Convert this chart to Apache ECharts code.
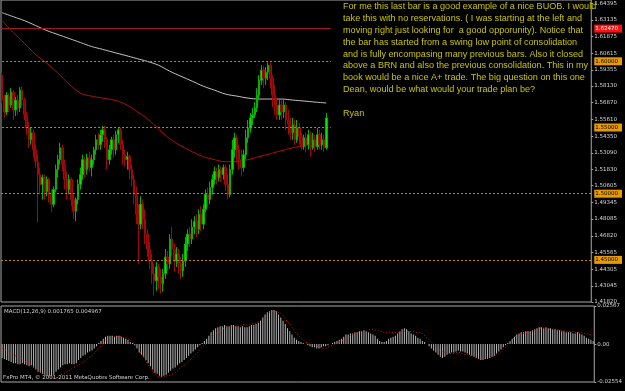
<!DOCTYPE html>
<html><head><meta charset="utf-8">
<script src="https://cdn.jsdelivr.net/npm/echarts@6/dist/echarts.min.js"></script>
<style>html,body{margin:0;padding:0;background:#000;}#c{width:625px;height:391px;}</style>
</head><body><div id="c"></div>
<script>
// ---- main price chart (visible bars) ----
const openP = [1.5895,1.5707,1.5617,1.5737,1.5670,1.5767,1.5632,1.5707,1.5647,1.5782,
1.5707,1.5595,1.5497,1.5407,1.5460,1.5332,1.5242,1.5145,1.5070,1.5122,
1.5017,1.5107,1.4995,1.4920,1.5032,1.5182,1.5257,1.5347,1.5220,1.5107,
1.5032,1.5107,1.4957,1.4867,1.4957,1.5070,1.5145,1.5257,1.5182,1.5272,
1.5197,1.5257,1.5332,1.5407,1.5370,1.5445,1.5482,1.5407,1.5257,1.5332,
1.5407,1.5332,1.5445,1.5482,1.5370,1.5295,1.5257,1.5280,1.5182,1.5107,
1.4995,1.4845,1.4770,1.4920,1.4807,1.4695,1.4582,1.4492,1.4395,1.4342,
1.4447,1.4372,1.4320,1.4395,1.4522,1.4470,1.4657,1.4582,1.4492,1.4545,
1.4470,1.4417,1.4492,1.4620,1.4695,1.4657,1.4747,1.4792,1.4732,1.4845,
1.4770,1.4882,1.4995,1.4957,1.5047,1.5107,1.5167,1.5122,1.5182,1.5145,
1.5197,1.5070,1.4995,1.5182,1.5332,1.5422,1.5332,1.5257,1.5197,1.5295,
1.5422,1.5497,1.5572,1.5595,1.5647,1.5745,1.5857,1.5932,1.5872,1.5917,
1.5970,1.5872,1.5745,1.5670,1.5595,1.5670,1.5617,1.5670,1.5557,1.5520,
1.5460,1.5520,1.5407,1.5497,1.5430,1.5355,1.5422,1.5370,1.5445,1.5347,
1.5407,1.5355,1.5445,1.5370,1.5407,1.5347];
const closeP = [1.5707,1.5617,1.5745,1.5670,1.5767,1.5632,1.5707,1.5647,1.5782,1.5707,
1.5595,1.5497,1.5407,1.5460,1.5332,1.5242,1.5145,1.5070,1.5122,1.5017,
1.5107,1.4995,1.4920,1.5032,1.5182,1.5257,1.5347,1.5220,1.5107,1.5032,
1.5107,1.4957,1.4867,1.4957,1.5070,1.5145,1.5257,1.5182,1.5272,1.5197,
1.5257,1.5332,1.5407,1.5370,1.5445,1.5482,1.5407,1.5257,1.5332,1.5407,
1.5332,1.5445,1.5482,1.5370,1.5295,1.5257,1.5280,1.5182,1.5107,1.4995,
1.4845,1.4770,1.4920,1.4807,1.4695,1.4582,1.4492,1.4395,1.4342,1.4447,
1.4372,1.4320,1.4395,1.4522,1.4470,1.4657,1.4582,1.4492,1.4545,1.4470,
1.4417,1.4492,1.4620,1.4695,1.4657,1.4747,1.4792,1.4732,1.4845,1.4770,
1.4882,1.4995,1.4957,1.5047,1.5107,1.5167,1.5122,1.5182,1.5145,1.5197,
1.5070,1.4995,1.5182,1.5332,1.5422,1.5332,1.5257,1.5197,1.5295,1.5422,
1.5497,1.5572,1.5595,1.5647,1.5745,1.5857,1.5932,1.5872,1.5917,1.5970,
1.5872,1.5745,1.5670,1.5595,1.5670,1.5617,1.5670,1.5557,1.5520,1.5460,
1.5520,1.5407,1.5497,1.5430,1.5355,1.5422,1.5370,1.5445,1.5347,1.5407,
1.5355,1.5445,1.5370,1.5407,1.5347,1.5572];
const lowP = [1.5685,1.5572,1.5595,1.5617,1.5647,1.5557,1.5587,1.5595,1.5617,1.5670,
1.5557,1.5445,1.5347,1.5370,1.5272,1.5197,1.4785,1.4995,1.4957,1.4957,
1.4980,1.4935,1.4860,1.4897,1.5010,1.5122,1.5220,1.5167,1.5032,1.4957,
1.4995,1.4905,1.4807,1.4792,1.4920,1.5032,1.5107,1.5122,1.5145,1.5167,
1.5130,1.5220,1.5295,1.5332,1.5332,1.5392,1.5347,1.5182,1.5220,1.5295,
1.5272,1.5295,1.5385,1.5332,1.5220,1.5205,1.5182,1.5107,1.5055,1.4920,
1.4770,1.4470,1.4732,1.4732,1.4620,1.4522,1.4432,1.4320,1.4230,1.4267,
1.4282,1.4245,1.4260,1.4357,1.4417,1.4432,1.4530,1.4410,1.4447,1.4395,
1.4357,1.4372,1.4447,1.4567,1.4597,1.4620,1.4695,1.4672,1.4695,1.4717,
1.4732,1.4860,1.4897,1.4920,1.4995,1.5070,1.5070,1.5092,1.5085,1.5107,
1.5017,1.4957,1.4972,1.5145,1.5272,1.5235,1.5182,1.5130,1.5167,1.5257,
1.5385,1.5460,1.5520,1.5572,1.5617,1.5707,1.5820,1.5797,1.5820,1.5857,
1.5797,1.5655,1.5595,1.5557,1.5557,1.5557,1.5572,1.5482,1.5445,1.5407,
1.5407,1.5370,1.5385,1.5370,1.5332,1.5332,1.5310,1.5332,1.5280,1.5332,
1.5317,1.5332,1.5332,1.5332,1.5317,1.5332];
const highP = [1.5917,1.5745,1.5767,1.5760,1.5797,1.5782,1.5730,1.5745,1.5805,1.5812,
1.5722,1.5617,1.5542,1.5497,1.5482,1.5370,1.5295,1.5197,1.5145,1.5145,
1.5130,1.5122,1.5032,1.5055,1.5220,1.5295,1.5385,1.5370,1.5257,1.5167,
1.5145,1.5122,1.4995,1.4972,1.5107,1.5197,1.5295,1.5280,1.5302,1.5317,
1.5295,1.5355,1.5445,1.5460,1.5482,1.5512,1.5512,1.5430,1.5370,1.5430,
1.5445,1.5475,1.5497,1.5497,1.5407,1.5332,1.5317,1.5295,1.5220,1.5145,
1.5055,1.4920,1.4980,1.4957,1.4882,1.4732,1.4635,1.4545,1.4470,1.4485,
1.4470,1.4432,1.4432,1.4582,1.4567,1.4695,1.4747,1.4620,1.4597,1.4582,
1.4522,1.4545,1.4672,1.4732,1.4747,1.4807,1.4830,1.4845,1.4882,1.4905,
1.4920,1.5032,1.5047,1.5092,1.5145,1.5205,1.5197,1.5220,1.5205,1.5220,
1.5220,1.5145,1.5220,1.5407,1.5460,1.5445,1.5370,1.5332,1.5332,1.5482,
1.5557,1.5610,1.5647,1.5692,1.5797,1.5895,1.5970,1.5962,1.5955,1.5992,
1.5992,1.5895,1.5820,1.5722,1.5707,1.5707,1.5707,1.5692,1.5632,1.5572,
1.5572,1.5557,1.5557,1.5535,1.5460,1.5445,1.5460,1.5482,1.5467,1.5460,
1.5445,1.5497,1.5482,1.5460,1.5445,1.5610];

// moving averages, read every 5th bar
const maIdx = [0,5,10,15,20,25,30,35,40,45,50,55,60,65,70,75,80,85,90,95,100,105,110,115,120,125,130,135,140,145];
const maGray = [1.6367,1.6337,1.6307,1.6270,1.6232,1.6202,1.6172,1.6142,1.6112,1.6090,1.6067,1.6045,1.6022,1.5999,1.5970,
1.5925,1.5887,1.5850,1.5812,1.5782,1.5752,1.5737,1.5722,1.5715,1.5715,1.5715,1.5707,1.5700,1.5692,1.5685];
const maRed = [1.6307,1.6217,1.6135,1.6052,1.5985,1.5910,1.5827,1.5760,1.5737,1.5722,1.5707,1.5677,1.5625,1.5565,1.5490,
1.5415,1.5362,1.5317,1.5280,1.5257,1.5242,1.5242,1.5257,1.5280,1.5302,1.5325,1.5347,1.5362,1.5370,1.5370];

// levels & ticks
const priceTicks = [1.64395,1.63135,1.61875,1.60615,1.59355,1.58130,1.56870,1.55610,1.54350,1.53090,1.51830,1.50605,1.49345,1.48085,1.46820,1.45565,1.44305,1.43045,1.41820];
const roundLevels = [1.6000,1.5500,1.5000,1.4500];
const redLevel = 1.6247;
const macdTicks = [0.02567,0,-0.02554];
const macdTickText = ['0.02567','0.00','-0.02554'];

// ---- MACD (all bars) ----
const macdMain = [-0.0093,-0.0100,-0.0107,-0.0114,-0.0121,-0.0129,-0.0129,-0.0136,-0.0136,-0.0129,
-0.0136,-0.0143,-0.0150,-0.0143,-0.0157,-0.0171,-0.0186,-0.0193,-0.0200,-0.0207,
-0.0214,-0.0214,-0.0214,-0.0207,-0.0186,-0.0171,-0.0157,-0.0143,-0.0136,-0.0136,
-0.0129,-0.0136,-0.0136,-0.0129,-0.0107,-0.0093,-0.0079,-0.0071,-0.0057,-0.0050,
-0.0043,-0.0029,-0.0014,0.0007,0.0021,0.0036,0.0050,0.0057,0.0057,0.0057,
0.0050,0.0057,0.0057,0.0050,0.0043,0.0036,0.0029,0.0014,0.0007,-0.0007,
-0.0029,-0.0057,-0.0071,-0.0086,-0.0107,-0.0129,-0.0150,-0.0171,-0.0193,-0.0200,
-0.0214,-0.0221,-0.0214,-0.0207,-0.0193,-0.0179,-0.0164,-0.0157,-0.0143,-0.0129,
-0.0121,-0.0107,-0.0093,-0.0079,-0.0064,-0.0050,-0.0036,-0.0021,-0.0007,0.0007,
0.0021,0.0036,0.0057,0.0079,0.0093,0.0107,0.0114,0.0121,0.0121,0.0129,
0.0121,0.0121,0.0129,0.0129,0.0121,0.0121,0.0114,0.0121,0.0114,0.0114,
0.0121,0.0129,0.0129,0.0136,0.0143,0.0157,0.0179,0.0200,0.0214,0.0221,
0.0229,0.0229,0.0221,0.0200,0.0179,0.0157,0.0136,0.0107,0.0086,0.0064,
0.0043,0.0029,0.0021,0.0014,0.0007,0.0000,-0.0007,-0.0014,-0.0021,-0.0021,
-0.0029,-0.0029,-0.0021,-0.0014,-0.0014,-0.0007,0.0000,0.0007,0.0014,0.0021,
0.0029,0.0036,0.0050,0.0064,0.0064,0.0071,0.0071,0.0079,0.0079,0.0086,
0.0086,0.0093,0.0086,0.0079,0.0071,0.0064,0.0057,0.0036,0.0021,0.0014,
0.0014,0.0021,0.0036,0.0043,0.0050,0.0057,0.0071,0.0086,0.0100,0.0107,
0.0100,0.0086,0.0071,0.0064,0.0057,0.0043,0.0036,0.0021,0.0014,0.0000,
-0.0014,-0.0029,-0.0043,-0.0057,-0.0071,-0.0086,-0.0093,-0.0086,-0.0071,-0.0064,
-0.0057,-0.0057,-0.0050,-0.0043,-0.0050,-0.0050,-0.0057,-0.0064,-0.0071,-0.0079,
-0.0086,-0.0093,-0.0100,-0.0107,-0.0107,-0.0100,-0.0100,-0.0093,-0.0086,-0.0079,
-0.0064,-0.0050,-0.0036,-0.0021,-0.0007,0.0007,0.0021,0.0036,0.0050,0.0064,
0.0071,0.0079,0.0079,0.0086,0.0086,0.0086,0.0093,0.0100,0.0107,0.0114,
0.0114,0.0107,0.0114,0.0107,0.0107,0.0100,0.0100,0.0093,0.0093,0.0086,
0.0086,0.0079,0.0079,0.0079,0.0071,0.0071,0.0079,0.0071,0.0064,0.0057,
0.0043,0.0036,0.0029,0.0021];
const macdSignal = [-0.0029,-0.0036,-0.0043,-0.0050,-0.0057,-0.0071,-0.0079,-0.0086,-0.0093,-0.0100,
-0.0114,-0.0121,-0.0129,-0.0143,-0.0150,-0.0164,-0.0171,-0.0186,-0.0193,-0.0207,
-0.0214,-0.0221,-0.0221,-0.0229,-0.0229,-0.0221,-0.0207,-0.0200,-0.0193,-0.0186,
-0.0179,-0.0164,-0.0157,-0.0150,-0.0143,-0.0129,-0.0121,-0.0114,-0.0100,-0.0086,
-0.0079,-0.0064,-0.0043,-0.0029,-0.0014,0.0000,0.0014,0.0029,0.0036,0.0043,
0.0050,0.0050,0.0050,0.0050,0.0043,0.0043,0.0036,0.0029,0.0014,0.0000,
-0.0021,-0.0043,-0.0064,-0.0086,-0.0114,-0.0136,-0.0164,-0.0179,-0.0200,-0.0214,
-0.0221,-0.0221,-0.0221,-0.0214,-0.0214,-0.0207,-0.0200,-0.0193,-0.0179,-0.0164,
-0.0150,-0.0143,-0.0129,-0.0114,-0.0100,-0.0086,-0.0071,-0.0057,-0.0036,-0.0021,
-0.0007,0.0007,0.0021,0.0043,0.0057,0.0064,0.0079,0.0086,0.0100,0.0107,
0.0114,0.0114,0.0121,0.0121,0.0121,0.0121,0.0121,0.0129,0.0129,0.0129,
0.0129,0.0136,0.0136,0.0143,0.0150,0.0157,0.0171,0.0186,0.0200,0.0214,
0.0221,0.0221,0.0221,0.0214,0.0207,0.0193,0.0171,0.0150,0.0136,0.0114,
0.0093,0.0071,0.0057,0.0043,0.0029,0.0014,0.0007,0.0000,-0.0007,-0.0007,
-0.0014,-0.0021,-0.0021,-0.0029,-0.0029,-0.0021,-0.0014,-0.0007,0.0000,0.0007,
0.0014,0.0021,0.0029,0.0036,0.0043,0.0057,0.0064,0.0071,0.0071,0.0079,
0.0086,0.0086,0.0086,0.0093,0.0100,0.0100,0.0093,0.0093,0.0086,0.0086,
0.0079,0.0079,0.0079,0.0079,0.0079,0.0079,0.0079,0.0079,0.0079,0.0086,
0.0086,0.0086,0.0086,0.0086,0.0079,0.0079,0.0079,0.0071,0.0057,0.0043,
0.0029,0.0014,0.0000,-0.0014,-0.0029,-0.0043,-0.0050,-0.0057,-0.0064,-0.0064,
-0.0064,-0.0064,-0.0057,-0.0057,-0.0057,-0.0064,-0.0071,-0.0071,-0.0079,-0.0079,
-0.0086,-0.0093,-0.0100,-0.0100,-0.0100,-0.0100,-0.0093,-0.0093,-0.0086,-0.0079,
-0.0071,-0.0064,-0.0050,-0.0036,-0.0021,-0.0007,0.0014,0.0029,0.0043,0.0057,
0.0064,0.0071,0.0071,0.0079,0.0079,0.0079,0.0086,0.0093,0.0100,0.0107,
0.0107,0.0107,0.0107,0.0100,0.0100,0.0100,0.0100,0.0100,0.0093,0.0093,
0.0093,0.0086,0.0086,0.0086,0.0086,0.0079,0.0079,0.0079,0.0079,0.0071,
0.0071,0.0064,0.0064,0.0064];

const noteLines = [
 'For me this last bar is a good example of a nice BUOB. I would',
 'take this with no reservations. ( I was starting at the left and',
 'moving right just looking for  a good opporunity). Notice that',
 'the bar has started from a swing low point of consolidation',
 'and is fully encompasing many previous bars. Also it closed',
 'above a BRN and also the previous consolidation. This in my',
 'book would be a nice A+ trade. The big question on this one',
 'Dean, would be what would your trade plan be?',
 '',
 'Ryan'
];
const macdLabel = 'MACD(12,26,9) 0.001765 0.004967';
const copyright = 'FxPro MT4, \u00a9 2001-2011 MetaQuotes Software Corp.';

// ---- build ----
const N = macdMain.length;
const cats = Array.from({length: N}, (_, i) => String(i));
const candles = openP.map((o, i) => [o, closeP[i], lowP[i], highP[i]]);
const lastVisible = openP.length + 1;

const levelLines = [];
levelLines.push([{coord: [0, redLevel], lineStyle: {color: '#a01818', type: 'solid'}}, {coord: [lastVisible, redLevel]}]);
roundLevels.forEach(v => {
  if (v >= 1.55) levelLines.push([{coord: [0, v]}, {coord: [lastVisible, v]}]);
  else levelLines.push({yAxis: v});
});

const chart = echarts.init(document.getElementById('c'), null, {renderer: 'canvas'});
const lblFont = {fontFamily: 'DejaVu Sans', fontSize: 5.5, color: '#d8d8d8'};
chart.setOption({
  backgroundColor: '#000',
  animation: false,
  grid: [
    {left: 1, top: -1, width: 604, height: 303, show: true, borderColor: '#a8a8a8', borderWidth: 1, backgroundColor: 'transparent'},
    {left: 1, top: 306, width: 604, height: 76, show: true, borderColor: '#a8a8a8', borderWidth: 1, backgroundColor: 'transparent'}
  ],
  xAxis: [
    {type: 'category', gridIndex: 0, data: cats, boundaryGap: true, axisLine: {show: false}, axisTick: {show: false}, axisLabel: {show: false}, splitLine: {show: false}},
    {type: 'category', gridIndex: 1, data: cats, boundaryGap: true, axisLine: {show: false}, axisTick: {show: false}, axisLabel: {show: false}, splitLine: {show: false}}
  ],
  yAxis: [
    {type: 'value', gridIndex: 0, position: 'right', min: 1.4182, max: 1.6463, splitLine: {show: false},
     axisLine: {show: false}, axisTick: {show: true, length: 2, lineStyle: {color: '#a8a8a8'}, customValues: priceTicks},
     axisLabel: Object.assign({margin: 3, showMinLabel: true, showMaxLabel: true,
       customValues: priceTicks.concat(roundLevels, [redLevel]),
       formatter: function (v) {
         if (Math.abs(v - redLevel) < 1e-6) return '{r|' + v.toFixed(5) + '}';
         for (const l of roundLevels) if (Math.abs(v - l) < 1e-6) return '{o|' + v.toFixed(5) + '}';
         return v.toFixed(5);
       },
       rich: {
         o: {backgroundColor: '#e89a00', color: '#000', fontSize: 5.5, fontFamily: 'DejaVu Sans', padding: [1, 4, 1, 1]},
         r: {backgroundColor: '#ff1010', color: '#fff', fontSize: 5.5, fontFamily: 'DejaVu Sans', padding: [1, 4, 1, 1]}
       }}, lblFont)},
    {type: 'value', gridIndex: 1, position: 'right', min: -0.02554, max: 0.02567, splitLine: {show: false},
     axisLine: {show: false}, axisTick: {show: true, length: 2, lineStyle: {color: '#a8a8a8'}, customValues: macdTicks},
     axisLabel: Object.assign({margin: 3, customValues: macdTicks, showMinLabel: true, showMaxLabel: true,
       formatter: function (v) {
         const k = macdTicks.findIndex(t => Math.abs(t - v) < 1e-7);
         return k >= 0 ? macdTickText[k] : '';
       }}, lblFont)}
  ],
  series: [
    {type: 'candlestick', xAxisIndex: 0, yAxisIndex: 0, data: candles, barWidth: 2, z: 3,
     itemStyle: {color: '#00e800', color0: '#8a0000', borderColor: '#00b400', borderColor0: '#a00a0a', borderWidth: 1},
     markLine: {silent: true, symbol: 'none', label: {show: false}, animation: false,
       lineStyle: {color: '#c8840c', type: [2, 2], width: 1}, data: levelLines}},
    {type: 'line', xAxisIndex: 0, yAxisIndex: 0, data: maIdx.map((k, j) => [k, maGray[j]]), smooth: 0.4, symbol: 'none',
     lineStyle: {color: '#c4c4c4', width: 1}, z: 2},
    {type: 'line', xAxisIndex: 0, yAxisIndex: 0, data: maIdx.map((k, j) => [k, maRed[j]]), smooth: 0.4, symbol: 'none',
     lineStyle: {color: '#b01010', width: 1}, z: 2},
    {type: 'bar', xAxisIndex: 1, yAxisIndex: 1, data: macdMain, barWidth: 1, itemStyle: {color: '#b8b8b8'}},
    {type: 'line', xAxisIndex: 1, yAxisIndex: 1, data: macdSignal, symbol: 'none', smooth: 0.3,
     lineStyle: {color: '#e01818', width: 1, type: [1, 2]}, z: 3}
  ],
  graphic: [
    {type: 'text', left: 343, top: 1, z: 10, style: {text: noteLines.join('\n'), fill: '#c8c400',
      font: '9.1px "Liberation Sans"', lineHeight: 11.8}},
    {type: 'text', left: 4, top: 309, z: 10, style: {text: macdLabel, fill: '#d0d0d0', font: '5.5px "DejaVu Sans"'}},
    {type: 'text', left: 3, top: 375, z: 10, style: {text: copyright, fill: '#d0d0d0', font: '5.5px "DejaVu Sans"'}}
  ]
});
</script></body></html>
